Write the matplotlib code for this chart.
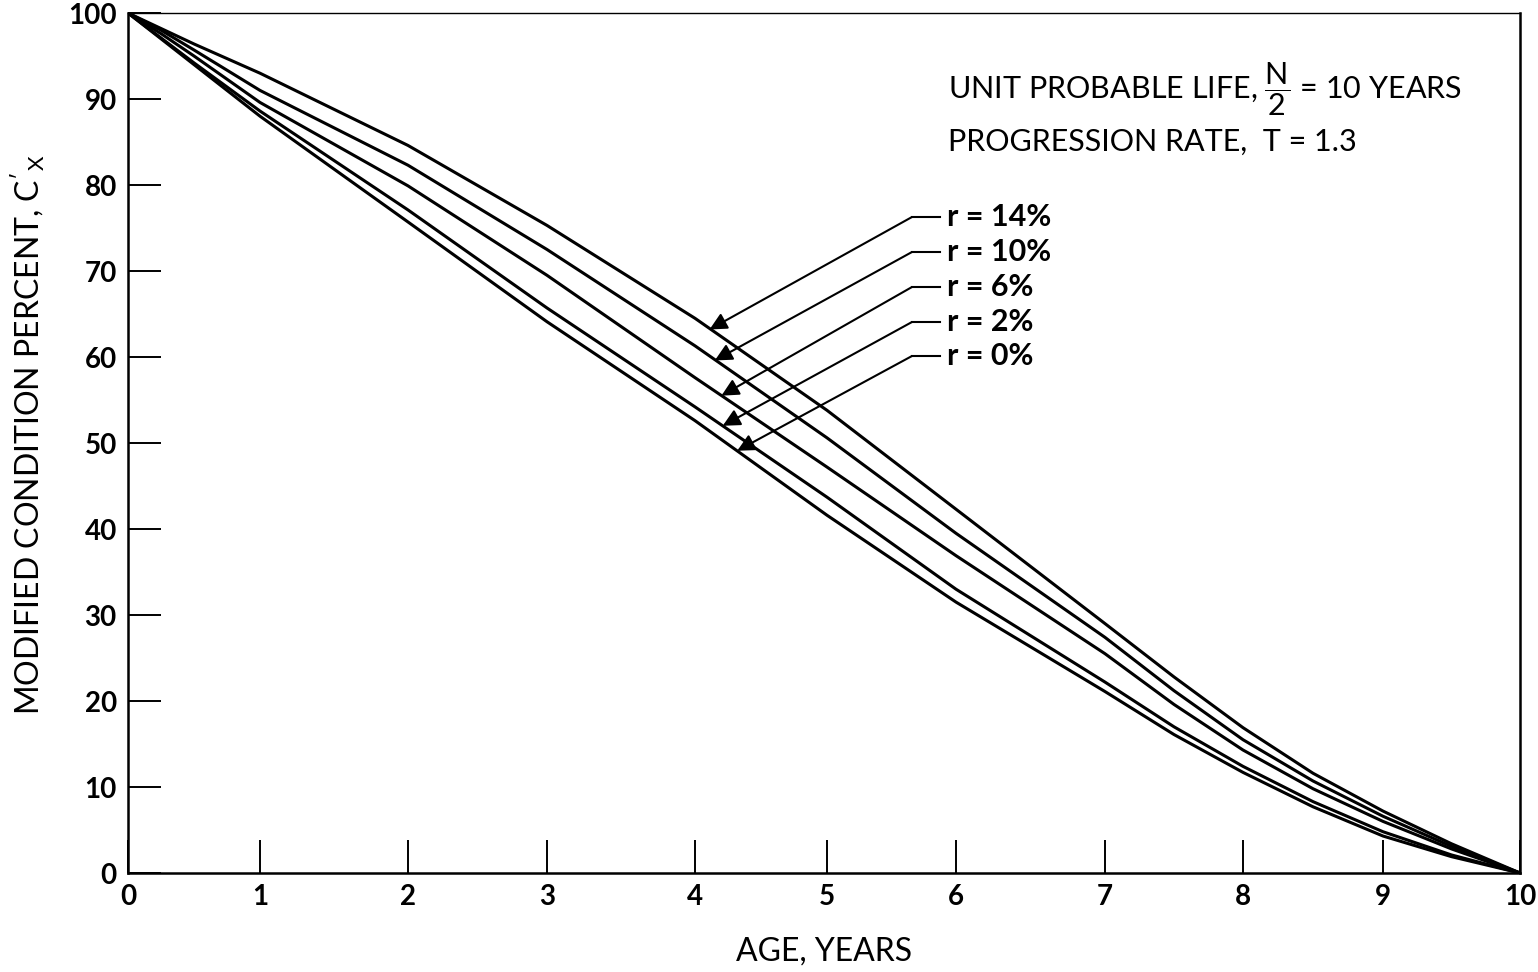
import numpy as np
import matplotlib
matplotlib.use("Agg")
import matplotlib.pyplot as plt
from matplotlib.lines import Line2D

# ===============================
# DATA
# ===============================
age = [0, 0.25, 0.5, 1, 2, 3, 4, 5, 6, 7, 7.5, 8, 8.5, 9, 9.5, 10]

r14 = [100, 98.2, 96.4, 93.0, 84.6, 75.3, 64.5, 53.8, 42.3, 29.0, 22.8, 16.9, 11.6, 7.2, 3.4, 0]
r10 = [100, 98.0, 95.7, 91.0, 82.3, 72.5, 61.3, 50.6, 39.5, 27.4, 21.2, 15.5, 10.7, 6.6, 3.1, 0]
r6 = [100, 97.6, 95.0, 89.6, 79.9, 69.5, 57.6, 47.2, 36.9, 25.5, 19.6, 14.3, 9.8, 6.0, 2.8, 0]
r2 = [100, 97.1, 94.2, 88.6, 77.1, 65.7, 54.2, 43.7, 33.0, 22.2, 17.0, 12.4, 8.3, 4.8, 2.1, 0]
r0 = [100, 97.0, 94.0, 88.0, 75.7, 64.1, 52.6, 41.6, 31.5, 21.1, 16.1, 11.7, 7.7, 4.3, 1.9, 0]

series = [r14, r10, r6, r2, r0]
labels = ["r = 14%", "r = 10%", "r = 6%", "r = 2%", "r = 0%"]
# where each leader arrow lands (age, percent)
tip_age = [4.11, 4.15, 4.20, 4.21, 4.32]
tip_pct = [63.2, 59.6, 55.5, 52.0, 49.1]

x_ticks = list(range(0, 11))
y_ticks = list(range(0, 101, 10))

# ===============================
# LAYOUT
# ===============================
W, H = 1538, 972
# hand drawn axis: tick marks are not evenly spaced
TICK_PX = [128, 260, 408, 547, 695, 827, 956, 1105, 1243, 1383, 1520]

FONT = "Lato"
plt.rcParams["font.family"] = [FONT, "DejaVu Sans"]
plt.rcParams["mathtext.fontset"] = "custom"
plt.rcParams["mathtext.rm"] = FONT
plt.rcParams["mathtext.it"] = FONT + ":italic"
plt.rcParams["mathtext.bf"] = FONT + ":bold"


def fx(px):
    return px / W


def fy(py):
    return 1 - py / H


_src = np.array([-10.0] + x_ticks + [20.0])
_dst = np.array([TICK_PX[0] - 1392.0] + TICK_PX + [TICK_PX[-1] + 1392.0])


def fwd(v):
    return np.interp(v, _src, _dst)


def inv(p):
    return np.interp(p, _dst, _src)


fig = plt.figure(figsize=(W / 100, H / 100), dpi=100)
ax = fig.add_axes([fx(128), fy(873), fx(1520) - fx(128), fy(13) - fy(873)])
ax.set_xscale("function", functions=(fwd, inv))

for s in series:
    ax.plot(age, s, color="black", lw=2.2, solid_joinstyle="round")

ax.set_xlim(0, 10)
ax.set_ylim(0, 100)
ax.set_xticks(x_ticks)
ax.set_yticks(y_ticks)
ax.set_xticklabels([str(t) for t in x_ticks])
ax.set_yticklabels([str(t) for t in y_ticks])
ax.minorticks_off()

ax.tick_params(direction="in", length=24, width=1.4, labelsize=20, pad=8)
ax.tick_params(axis="x", top=False)
ax.tick_params(axis="y", right=False)
for lab in ax.get_xticklabels() + ax.get_yticklabels():
    lab.set_fontweight("bold")

for side in ["left", "bottom", "right"]:
    ax.spines[side].set_linewidth(1.8)
ax.spines["top"].set_linewidth(1.0)

ax.set_xlabel("AGE, YEARS", fontsize=23, labelpad=19)
ax.set_ylabel("MODIFIED CONDITION PERCENT, $\\mathrm{C}'_{\\mathrm{X}}$", fontsize=23)
ax.yaxis.set_label_coords(-0.058, 0.51)

# ===============================
# NOTES
# ===============================
fig.text(fx(948), fy(89), "UNIT PROBABLE LIFE, $\\dfrac{\\mathrm{N}}{\\mathrm{2}}$ = 10 YEARS",
         fontsize=22, va="center", ha="left")
fig.text(fx(948), fy(142), "PROGRESSION RATE,  T = 1.3", fontsize=22, va="center", ha="left")

label_y = [217, 252, 287, 322, 356]
for lab, ly, ta, tp in zip(labels, label_y, tip_age, tip_pct):
    fig.text(fx(947), fy(ly), lab, fontsize=22, fontweight="bold", va="center", ha="left")
    fig.add_artist(Line2D([fx(912), fx(940)], [fy(ly), fy(ly)], transform=fig.transFigure,
                          color="black", lw=1.5))
    ax.annotate("", xy=(ta, tp), xycoords="data",
                xytext=(912, H - ly), textcoords="figure pixels",
                arrowprops=dict(arrowstyle="-|>", color="black", lw=1.5,
                                mutation_scale=26, shrinkA=0, shrinkB=0))

fig.savefig("out.png", dpi=100)
